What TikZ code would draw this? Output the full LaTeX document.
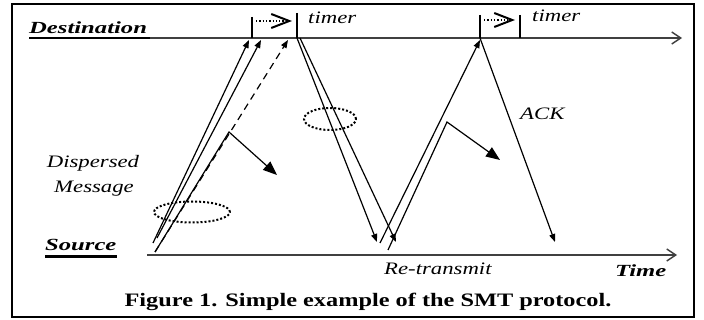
\documentclass[tikz,border=0pt]{standalone}
\usepackage{fontspec}
\setmainfont{Liberation Serif}
\newfontfamily\lblfont[FakeStretch=1.3]{Liberation Serif}
\newfontfamily\axfont[FakeStretch=1.45]{Liberation Serif}
\newfontfamily\capfont[FakeStretch=1.28]{Liberation Serif}
\usetikzlibrary{arrows.meta,positioning,shapes.geometric}

\tikzset{
	lbl/.style={font=\lblfont\itshape\fontsize{17.5}{20}\selectfont, inner sep=0pt},
	axlbl/.style={font=\axfont\bfseries\itshape\fontsize{17}{20}\selectfont, inner sep=0pt},
	axis/.style={line width=1.4pt, draw=black!75, -{Straight Barb[length=9pt,width=12pt,line width=1.4pt]}},
	uline/.style={line width=2.6pt},
	msg/.style={line width=1.2pt, -{Triangle[length=8pt,width=6pt]}},
	lost/.style={line width=1.2pt, -{Triangle[length=14pt,width=11pt]}},
	tick/.style={line width=1.6pt},
	wait/.style={line width=1.3pt, dotted, -{Straight Barb[length=18pt,width=14pt,line width=2pt]}},
	grp/.style={ellipse, draw, line width=2pt, dotted, inner sep=0pt}
}

\begin{document}
\begin{tikzpicture}[x=1pt,y=-1pt]

	\useasboundingbox (0,0) rectangle (704,320);
	\draw[line width=2.2pt] (12,4) rectangle (694,317);

	\node[axlbl, anchor=base west] (dst) at (29,34) {Destination};

	\node[axlbl, anchor=base west] (src) at (45,251) {Source};

	\node[axlbl, anchor=base west] (time) at (615,277) {Time};

	\node[lbl, anchor=base] (disp) at (93,168) {Dispersed};

	\node[lbl, anchor=base] (mesg) at (94,193) {Message};

	\node[lbl, anchor=base west] (tmr1) at (308,24) {timer};

	\node[lbl, anchor=base west] (tmr2) at (532,22) {timer};

	\node[lbl, anchor=base west] (ack) at (520,120) {ACK};

	\node[lbl, anchor=base west] (retx) at (384,275) {Re-transmit};

	\node[font=\capfont\bfseries\fontsize{19}{22}\selectfont, inner sep=0pt, anchor=base] (cap) at (368,306) {Figure 1. Simple example of the SMT protocol.};

	% time lines
	\coordinate (dstL) at (150,38);
	\coordinate (dstR) at (682,38);
	\coordinate (srcL) at (147,255);
	\coordinate (srcR) at (677,255);

	\draw[uline] (dst.base west |- dstL) -- (dstL);
	\draw[uline] ([yshift=-5.5pt]src.base west) -- ([yshift=-5.5pt]src.base east);
	\draw[axis] (dstL) -- (dstR);
	\draw[axis] (srcL) -- (srcR);

	% timers
	\coordinate (k1t) at (252,17);
	\coordinate (k1b) at (252,38);
	\coordinate (k2t) at (297,13);
	\coordinate (k2b) at (297,38);
	\coordinate (k3t) at (480,15);
	\coordinate (k3b) at (480,38);
	\coordinate (k4t) at (520,15);
	\coordinate (k4b) at (520,38);
	\coordinate (w1s) at (256,21);
	\coordinate (w1e) at (292,21);
	\coordinate (w2s) at (484,20);
	\coordinate (w2e) at (515,20);

	\draw[tick] (k1t) -- (k1b) (k2t) -- (k2b) (k3t) -- (k3b) (k4t) -- (k4b);
	\draw[wait] (w1s) -- (w1e);
	\draw[wait] (w2s) -- (w2e);

	% first burst
	\coordinate (s1) at (153,243);
	\coordinate (s2) at (157,238);
	\coordinate (s3) at (155,252);
	\coordinate (d1) at (249,40);
	\coordinate (d2) at (261,40);
	\coordinate (d3) at (288,40);
	\coordinate (b1) at (229,132);
	\coordinate (x1) at (277,175);

	\draw (s1) edge[msg] (d1)
	(s2) edge[msg] (d2)
	(s3) edge[msg, dash pattern=on 7pt off 5pt] (d3);
	\draw[lost] (s3) -- (b1) -- (x1);

	% back to source
	\coordinate (u1) at (300,38);
	\coordinate (v1) at (377,242);
	\coordinate (v2) at (396,242);

	\draw (k2b) edge[msg] (v1)
	(u1) edge[msg] (v2);

	% re-transmit
	\coordinate (s4) at (380,243);
	\coordinate (s5) at (388,250);
	\coordinate (d4) at (480,40);
	\coordinate (b2) at (447,122);
	\coordinate (x2) at (500,160);
	\coordinate (v3) at (555,242);

	\draw (s4) edge[msg] (d4)
	(k3b) edge[msg] (v3);
	\draw[lost] (s5) -- (b2) -- (x2);

	\node[grp, minimum width=76, minimum height=21] (grp1) at (192,212) {};
	\node[grp, minimum width=52, minimum height=22] (grp2) at (330,119) {};

\end{tikzpicture}
\end{document}
